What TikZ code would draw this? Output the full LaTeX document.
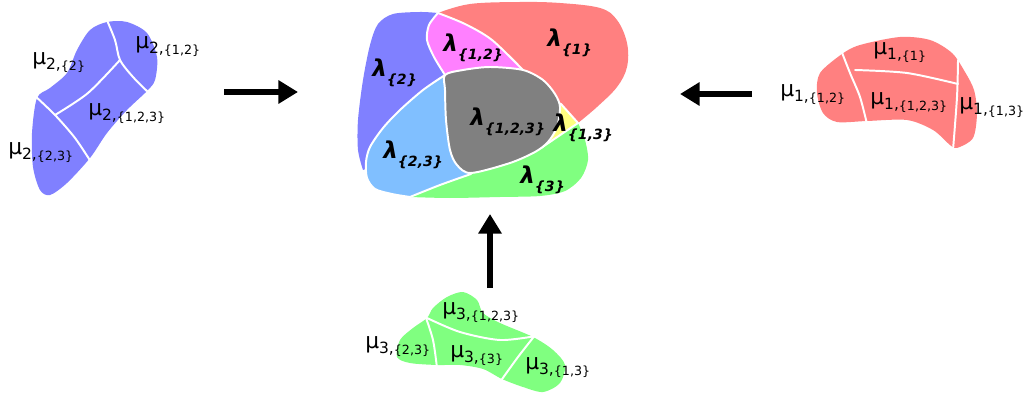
\documentclass[tikz,border=0pt]{standalone}
\usepackage{fontspec}
\setmainfont{DejaVu Sans}
\usetikzlibrary{arrows.meta}
\definecolor{cblue}{RGB}{128,128,255}
\definecolor{cred}{RGB}{255,128,128}
\definecolor{cgreen}{RGB}{128,255,128}
\definecolor{cpink}{RGB}{255,128,255}
\definecolor{clight}{RGB}{128,191,255}
\definecolor{cyellow}{RGB}{255,255,128}
\definecolor{cgray}{RGB}{128,128,128}
\tikzset{region/.style={draw=white,line width=1.4pt,line join=round},
  cut/.style={white,line width=1.4pt,line cap=round},
  mulab/.style={anchor=west,inner sep=0pt,font=\fontsize{15.5}{17}\selectfont},
  lamlab/.style={anchor=west,inner sep=0pt,font=\fontsize{16.5}{18}\selectfont\bfseries\itshape},
  bigarrow/.style={line width=3.6pt,-{Triangle[length=14pt,width=16pt]}}}
\newcommand{\mutxt}[2]{μ\raisebox{-0.35ex}{\fontsize{11}{12}\selectfont #1,}\raisebox{-0.5ex}{\fontsize{9}{10}\selectfont\{#2\}}}
\newcommand{\lamtxt}[1]{λ\raisebox{-0.6ex}{\fontsize{10}{11}\selectfont\{#1\}}}

\begin{document}
\begin{tikzpicture}[x=0.025cm,y=-0.025cm]
\useasboundingbox (0,0) rectangle (1024,400);
% --- left piece, mu_2
\fill[cblue] plot[smooth cycle] coordinates {(107,22) (127,22) (147,33) (157,57) (155,80) (147,91) (127,110) (107,133) (90,158) (67,183) (50,195) (40,190) (33,167) (32,133) (37,98) (50,88) (67,73) (77,50) (90,30)};
\draw[cut] plot[smooth] coordinates {(106,18) (115,40) (120,60) (133,77) (150,94)};
\draw[cut] plot[smooth] coordinates {(120,60) (88,93) (55,115)};
\draw[cut] plot[smooth] coordinates {(34,95) (55,115) (75,138) (91,162)};
\node[mulab] (m22) at (32,63) {\mutxt{2}{2}};
\node[mulab] (m212) at (135,47) {\mutxt{2}{1,2}};
\node[mulab] (m2123) at (88,114) {\mutxt{2}{1,2,3}};
\node[mulab] (m223) at (8,153) {\mutxt{2}{2,3}};

% --- right piece, mu_1
\fill[cred] plot[smooth cycle] coordinates {(842,54) (860,45) (900,37) (930,40) (952,53) (965,72) (974,90) (977,113) (973,138) (957,148) (950,145) (933,130) (907,120) (867,121) (837,122) (823,113) (817,93) (820,73)};
\draw[cut] plot[smooth] coordinates {(841,50) (850,73) (860,97) (867,124)};
\draw[cut] plot[smooth] coordinates {(855,70) (907,73) (958,84)};
\draw[cut] plot[smooth] coordinates {(958,60) (957,97) (953,150)};
\node[mulab] (m11) at (873,53) {\mutxt{1}{1}};
\node[mulab] (m112) at (780,95) {\mutxt{1}{1,2}};
\node[mulab] (m1123) at (870,103) {\mutxt{1}{1,2,3}};
\node[mulab] (m113) at (959,108) {\mutxt{1}{1,3}};

% --- bottom piece, mu_3
\fill[cgreen] plot[smooth cycle] coordinates {(427,318) (433,308) (447,297) (463,292) (477,300) (483,313) (500,323) (533,337) (553,350) (565,365) (560,383) (543,392) (523,387) (502,379) (483,369) (460,365) (437,365) (410,363) (397,357) (400,340) (413,328)};
\draw[cut] plot[smooth] coordinates {(425,315) (433,340) (437,368)};
\draw[cut] plot[smooth] coordinates {(427,318) (460,332) (500,340) (536,336)};
\draw[cut] plot[smooth] coordinates {(536,334) (518,357) (500,382)};
\node[mulab] (m3123) at (442,313) {\mutxt{3}{1,2,3}};
\node[mulab] (m323) at (365,347) {\mutxt{3}{2,3}};
\node[mulab] (m33) at (450,356) {\mutxt{3}{3}};
\node[mulab] (m313) at (525,368) {\mutxt{3}{1,3}};

% --- middle, lambda regions (lower ones first)
\coordinate (mid) at (500,120);
\fill[cred] (mid) -- plot[smooth,tension=0.6] coordinates {(438,13) (470,4) (520,2) (560,3) (600,8) (617,20) (627,43) (627,67) (617,87) (597,107) (578,123)} -- cycle;
\fill[cblue] (mid) -- plot[smooth] coordinates {(438,13) (420,12) (393,14) (378,24) (370,45) (363,80) (358,120) (358,150) (363,170)} -- cycle;
\fill[cgreen] (mid) -- plot[smooth] coordinates {(410,197) (450,198) (500,197) (540,196) (565,191) (581,178) (588,160) (585,140) (578,123)} -- cycle;
\path[region,fill=cpink] plot[smooth] coordinates {(438,13) (429,25) (427,40) (434,57) (445,75)} -- (480,95) -- plot[smooth] coordinates {(523,70) (492,40) (465,24) (438,13)} -- cycle;
\path[region,fill=clight] plot[smooth] coordinates {(445,75) (423,90) (400,110) (383,128) (370,147) (366,162) (367,178) (375,189) (392,194) (410,197)} -- plot[smooth] coordinates {(410,197) (440,185) (471,174)} -- (480,120) -- cycle;
\path[region,fill=cyellow] (548,100) -- (561,104) -- (578,123) -- (541,148) -- (530,130) -- cycle;
\path[region,fill=cgray] plot[smooth cycle] coordinates {(445,75) (463,70) (490,67) (523,70) (543,80) (555,94) (560,107) (557,127) (548,142) (535,152) (510,163) (471,173) (457,165) (450,150) (446,120) (445,90)};
\node[lamlab] (l2) at (372,73) {\lamtxt{2}};
\node[lamlab] (l12) at (443,48) {\lamtxt{1,2}};
\node[lamlab] (l1) at (547,43) {\lamtxt{1}};
\node[lamlab] (l123) at (470,122) {\lamtxt{1,2,3}};
\node[lamlab] (l13) at (553,128) {\lamtxt{1,3}};
\node[lamlab] (l23) at (383,155) {\lamtxt{2,3}};
\node[lamlab] (l3) at (520,180) {\lamtxt{3}};

% --- arrows
\coordinate (a2s) at (224,92); \coordinate (a2e) at (298,92);
\coordinate (a1s) at (752,94); \coordinate (a1e) at (680,94);
\coordinate (a3s) at (490,288); \coordinate (a3e) at (490,214);
\draw[bigarrow] (a2s) -- (a2e);
\draw[bigarrow] (a1s) -- (a1e);
\draw[bigarrow] (a3s) -- (a3e);
\end{tikzpicture}
\end{document}
